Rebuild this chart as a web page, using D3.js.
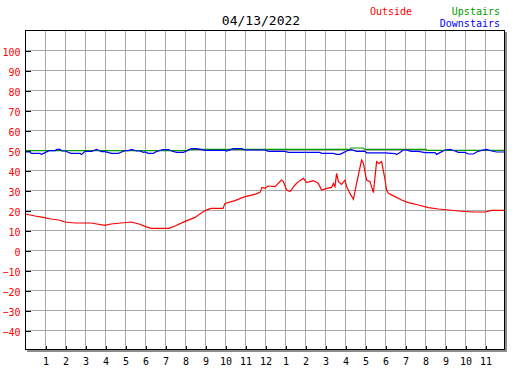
<!DOCTYPE html>
<html>
<head>
<meta charset="utf-8">
<script src="https://cdn.jsdelivr.net/npm/d3@7"></script>
<style>
  html, body { margin: 0; padding: 0; background: #fff; }
  svg { display: block; }
  text { font-family: "DejaVu Sans Mono", monospace; }
</style>
</head>
<body>
<svg id="chart" width="527" height="370"></svg>
<script>
const title = "04/13/2022";
const seriesNames = ["Outside", "Upstairs", "Downstairs"];
const seriesColors = ["#ff0000", "#009900", "#0000ff"];
const yTicks = [-40, -30, -20, -10, 0, 10, 20, 30, 40, 50, 60, 70, 80, 90, 100];
const xTickValues = [1,2,3,4,5,6,7,8,9,10,11,12,13,14,15,16,17,18,19,20,21,22,23];
const xTickLabels = ["1","2","3","4","5","6","7","8","9","10","11","12","1","2","3","4","5","6","7","8","9","10","11"];

const outsideHours = [0,0.5,0.9,1.3,1.7,2,2.5,3.3,3.6,4,4.3,4.8,5.3,5.7,6,6.3,7.2,7.5,8,8.5,9,9.3,9.9,10,10.5,11,11.5,11.75,11.85,12,12.15,12.5,12.83,12.92,13.08,13.25,13.5,13.67,13.92,14.08,14.42,14.67,14.83,15.08,15.33,15.42,15.5,15.58,15.67,15.83,16,16.08,16.25,16.42,16.58,16.83,16.92,17.08,17.25,17.42,17.58,17.7,17.83,18,18.08,18.17,18.5,18.83,19.17,19.67,20.17,20.67,21.17,21.67,22.33,23,23.33,24];
const outsideTemps = [18,17,16.3,15.5,15,14,13.5,13.5,13,12.3,13,13.5,14,13,11.8,10.8,10.8,12,14.3,16.3,19.7,20.8,20.8,23.3,24.7,26.7,27.8,28.8,31.3,30.8,32,31.7,35,34.2,30,29.2,32.5,34.2,35.8,33.7,34.7,33.3,30,30.8,31.3,33.3,31.7,38.3,34.2,32.8,35,31.7,28.3,25.3,33.3,45,43.3,35,34.2,28.7,44.2,43.3,44.2,35.3,30,28.3,26.7,25,23.7,22.5,21.2,20.5,20,19.5,19,19,19.8,19.8];

const upstairsHours = [0,8.1,8.2,16.25,16.3,16.9,17,20.05,20.1,24];
const upstairsTemps = [49.7,49.7,50.3,50.3,51,51,50.3,50.3,49.8,49.8];

const downstairsHours = [0,0.25,0.33,0.75,0.83,1,1.2,1.5,1.6,1.75,1.85,2,2.3,2.75,2.83,3,3.33,3.58,3.83,4,4.33,4.67,4.83,5,5.17,5.33,5.58,5.75,5.92,6,6.17,6.42,6.58,6.9,7.17,7.33,7.58,7.92,8.08,8.33,8.58,9,10,10.08,10.42,10.83,11,12,12.17,13,13.17,14.75,14.83,15.42,15.58,15.75,15.92,16.08,16.33,16.58,17,17.08,18,18.5,18.58,18.75,18.92,19.08,19.17,19.33,19.67,20,20.5,20.58,20.75,21,21.25,21.5,21.67,22,22.17,22.42,22.58,22.83,23.08,23.33,23.58,24];
const downstairsTemps = [49,49,48.3,48.3,47.8,48.7,49.7,49.7,50.3,50.3,49.5,49.5,48.3,48.3,47.8,49.3,49.3,50.3,49.2,49.2,48.3,48.3,49,49.7,49.7,50.3,49.5,49.5,48.8,49,48.3,48.3,49.3,50.2,50.2,49.5,48.8,48.8,49.5,50.7,50.7,49.8,49.8,49.5,50.7,50.7,50,50,49.3,49.3,48.8,48.8,48.3,48.3,47.8,47.8,48.7,49.5,50.2,49.3,49.3,48.6,48.6,48.2,47.7,48.7,50,50,49.7,49.3,49.3,48.7,48.7,47.8,48.7,50,50.3,49.5,48.8,48.8,48,48,49,49.8,50.3,49.5,49,49];

const svg = d3.select("#chart");
const L = 25, R = 505, T = 30, B = 350;
const x = d3.scaleLinear().domain([0, 24]).range([L, R]);
const y = d3.scaleLinear().domain([-50, 110]).range([B, T]);

// shadow
svg.append("rect").attr("x", L + 2).attr("y", T + 2).attr("width", R - L).attr("height", B - T)
  .attr("fill", "#8c8c8c");
svg.append("rect").attr("x", L).attr("y", T).attr("width", R - L).attr("height", B - T)
  .attr("fill", "#fff");

// grid
const grid = svg.append("g").attr("shape-rendering", "crispEdges").attr("stroke", "#a8a8a8").attr("stroke-width", 1);
grid.selectAll("line.v").data(xTickValues).join("line")
  .attr("x1", d => Math.round(x(d)) + 0.5).attr("x2", d => Math.round(x(d)) + 0.5)
  .attr("y1", T).attr("y2", B);
grid.selectAll("line.h").data(yTicks).join("line")
  .attr("x1", L).attr("x2", R)
  .attr("y1", d => Math.round(y(d)) + 0.5).attr("y2", d => Math.round(y(d)) + 0.5);

// axes
const yAxis = d3.axisLeft(y).tickValues(yTicks).tickSize(-5).tickPadding(5).tickFormat(d3.format("d"));
const gy = svg.append("g").attr("transform", `translate(${L + 0.5},0.5)`).call(yAxis);
gy.select(".domain").remove();
gy.selectAll(".tick line").attr("stroke", "#000").attr("shape-rendering", "crispEdges");
gy.selectAll(".tick text").attr("fill", "#ff0000").attr("font-size", 10)
  .attr("font-family", "DejaVu Sans Mono").attr("dy", "0.45em");

const xAxis = d3.axisBottom(x).tickValues(xTickValues).tickSize(-4).tickPadding(8)
  .tickFormat((d, i) => xTickLabels[i]);
const gx = svg.append("g").attr("transform", `translate(0.5,${B - 0.5})`).call(xAxis);
gx.select(".domain").remove();
gx.selectAll(".tick line").attr("stroke", "#000").attr("shape-rendering", "crispEdges");
gx.selectAll(".tick text").attr("fill", "#000").attr("font-size", 10)
  .attr("font-family", "DejaVu Sans Mono");

// lines
const mk = (hs, vs) => hs.map((h, i) => [h, vs[i]]);
const line = d3.line().x(d => x(d[0])).y(d => y(d[1]));
const series = [
  mk(outsideHours, outsideTemps),
  mk(upstairsHours, upstairsTemps),
  mk(downstairsHours, downstairsTemps)
];
series.forEach((s, i) => {
  svg.append("path").datum(s).attr("d", line).attr("fill", "none")
    .attr("stroke", seriesColors[i]).attr("stroke-width", 1.2);
});

// border
svg.append("rect").attr("x", L + 0.5).attr("y", T + 0.5).attr("width", R - L - 1).attr("height", B - T - 1)
  .attr("fill", "none").attr("stroke", "#000").attr("stroke-width", 1).attr("shape-rendering", "crispEdges");

// title
svg.append("text").attr("x", 261).attr("y", 25).attr("text-anchor", "middle")
  .attr("font-size", 13).attr("fill", "#000").text(title);

// legend
svg.append("text").attr("x", 370).attr("y", 15).attr("font-size", 10).attr("fill", seriesColors[0]).text(seriesNames[0]);
svg.append("text").attr("x", 500).attr("y", 15).attr("text-anchor", "end").attr("font-size", 10).attr("fill", seriesColors[1]).text(seriesNames[1]);
svg.append("text").attr("x", 500).attr("y", 27).attr("text-anchor", "end").attr("font-size", 10).attr("fill", seriesColors[2]).text(seriesNames[2]);
</script>
</body>
</html>
